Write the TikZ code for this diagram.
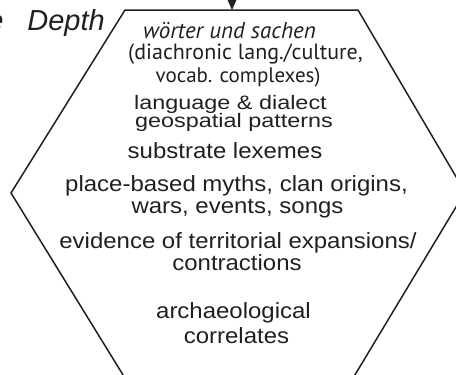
\documentclass[tikz,border=0pt]{standalone}
\usepackage{fontspec}
\setmainfont{Liberation Sans}
\newfontfamily\helvA[FakeStretch=1.09]{Liberation Sans}
\newfontfamily\helvB[FakeStretch=1.2]{Liberation Sans}
\newfontfamily\myr{PT Sans}
\usetikzlibrary{arrows.meta}
\definecolor{ink}{RGB}{35,31,32}
\begin{document}
\begin{tikzpicture}[x=1pt,y=-1pt,
  edge/.style={draw=ink,line width=1.5pt,line join=miter},
  lowtxt/.style={text=ink,inner sep=0pt,anchor=base,font=\helvA\fontsize{22}{22}\selectfont},
  midtxt/.style={text=ink,inner sep=0pt,anchor=base,font=\helvB\fontsize{19.5}{19.5}\selectfont},
  myrtxt/.style={text=ink,inner sep=0pt,anchor=base,font=\myr\fontsize{21}{21}\selectfont},
  ttl/.style={text=ink,inner sep=0pt,anchor=base east,font=\itshape\fontsize{29}{29}\selectfont}]
\useasboundingbox (0,0) rectangle (456,375);
% hexagon
\coordinate (tl) at (125,10);
\coordinate (tr) at (358,10);
\coordinate (rr) at (465,192);
\coordinate (br) at (354,376.5);
\coordinate (bl) at (124,376.5);
\coordinate (ll) at (11,193);
\draw[edge] (tl) -- (tr) -- (rr) -- (br) -- (bl) -- (ll) -- cycle;
% arrow
\coordinate (arrtop) at (232,-30);
\coordinate (arrtip) at (232,10);
\draw[draw=ink,line width=1.2pt,-{Triangle[length=10pt,width=8.5pt]}] (arrtop) -- (arrtip);
% title
\node[ttl] (title) at (105,30) {Time\hspace{16pt} Depth};
% texts
\node[myrtxt,font=\myr\itshape\fontsize{23}{23}\selectfont] (t1) at (229.5,38) {wörter und sachen};
\node[myrtxt,font=\myr\fontsize{22}{22}\selectfont] (t2) at (245.5,59) {(diachronic lang./culture,};
\node[myrtxt] (t3) at (238,82) {vocab. complexes)};
\node[midtxt] (t4) at (230.5,109) {language \& dialect};
\node[midtxt] (t5) at (234,127) {geospatial patterns};
\node[lowtxt] (t6) at (225,158) {substrate lexemes};
\node[lowtxt] (t7) at (236.5,191) {place-based myths, clan origins,};
\node[lowtxt] (t8) at (237.5,213) {wars, events, songs};
\node[lowtxt] (t9) at (238,248) {evidence of territorial expansions/};
\node[lowtxt] (t10) at (237,270) {contractions};
\node[lowtxt] (t11) at (233.5,318) {archaeological};
\node[lowtxt] (t12) at (236.5,343) {correlates};
\end{tikzpicture}
\end{document}
